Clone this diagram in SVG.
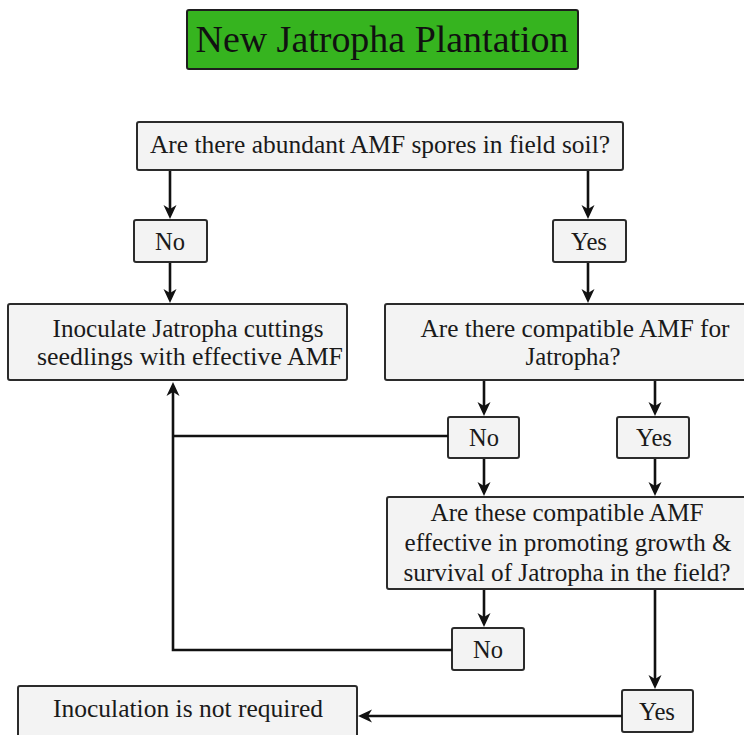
<svg xmlns="http://www.w3.org/2000/svg" width="744" height="735" viewBox="0 0 744 735">
<style>
.box{fill:#f3f3f3;stroke:#2b2b2b;stroke-width:2}
.t{font-size:25px;fill:#1a1a1a;text-anchor:middle}
.h{font-size:38px;fill:#111;text-anchor:middle}
.c{fill:none;stroke:#111;stroke-width:2.6}
</style>
<defs>
<marker id="ah" markerUnits="userSpaceOnUse" markerWidth="30" markerHeight="30" refX="0" refY="0" orient="auto" overflow="visible">
<path d="M4,0 L-10,-6.5 L-6,0 L-10,6.5 Z" fill="#111"/>
</marker>
</defs>
<rect width="744" height="735" fill="#fff"/>
<g font-family="Liberation Serif, Times New Roman, serif">
<g id="title">
<rect x="187" y="10" width="391" height="59" rx="2" fill="#36b41f" stroke="#1e1e1e" stroke-width="2"/>
<text class="h" x="382" y="52" textLength="373" lengthAdjust="spacingAndGlyphs">New Jatropha Plantation</text>
</g>
<g id="q1">
<rect class="box" x="137" y="122" width="486" height="48" rx="2"/>
<text class="t" x="380" y="153" textLength="460" lengthAdjust="spacingAndGlyphs">Are there abundant AMF spores in field soil?</text>
</g>
<g id="no1">
<rect class="box" x="134" y="220" width="73" height="42" rx="2"/>
<text class="t" x="170" y="250" textLength="30" lengthAdjust="spacingAndGlyphs">No</text>
</g>
<g id="yes1">
<rect class="box" x="553" y="220" width="73" height="42" rx="2"/>
<text class="t" x="589" y="250" textLength="36" lengthAdjust="spacingAndGlyphs">Yes</text>
</g>
<g id="inoculate">
<rect class="box" x="8" y="304" width="339" height="76" rx="2"/>
<text class="t" x="188" y="337" textLength="271" lengthAdjust="spacingAndGlyphs">Inoculate Jatropha cuttings</text>
<text class="t" x="190" y="365" textLength="306" lengthAdjust="spacingAndGlyphs">seedlings with effective AMF</text>
</g>
<g id="q2">
<rect class="box" x="385" y="304" width="362" height="76" rx="2"/>
<text class="t" x="575" y="337" textLength="309" lengthAdjust="spacingAndGlyphs">Are there compatible AMF for</text>
<text class="t" x="573" y="365" textLength="95" lengthAdjust="spacingAndGlyphs">Jatropha?</text>
</g>
<g id="no2">
<rect class="box" x="448" y="417" width="71" height="41" rx="2"/>
<text class="t" x="484" y="446" textLength="30" lengthAdjust="spacingAndGlyphs">No</text>
</g>
<g id="yes2">
<rect class="box" x="617" y="417" width="72" height="41" rx="2"/>
<text class="t" x="654" y="446" textLength="36" lengthAdjust="spacingAndGlyphs">Yes</text>
</g>
<g id="q3">
<rect class="box" x="387" y="497" width="360" height="92" rx="2"/>
<text class="t" x="567" y="521" textLength="273" lengthAdjust="spacingAndGlyphs">Are these compatible AMF</text>
<text class="t" x="568" y="551" textLength="327" lengthAdjust="spacingAndGlyphs">effective in promoting growth &amp;</text>
<text class="t" x="567" y="581" textLength="327" lengthAdjust="spacingAndGlyphs">survival of Jatropha in the field?</text>
</g>
<g id="no3">
<rect class="box" x="452" y="628" width="72" height="42" rx="2"/>
<text class="t" x="488" y="658" textLength="30" lengthAdjust="spacingAndGlyphs">No</text>
</g>
<g id="yes3">
<rect class="box" x="622" y="690" width="71" height="42" rx="2"/>
<text class="t" x="657" y="720" textLength="36" lengthAdjust="spacingAndGlyphs">Yes</text>
</g>
<g id="notreq">
<rect class="box" x="18" y="686" width="339" height="60" rx="2"/>
<text class="t" x="188" y="717" textLength="270" lengthAdjust="spacingAndGlyphs">Inoculation is not required</text>
</g>
</g>
<g id="connectors">
<path class="c" d="M170,171 V215" marker-end="url(#ah)"/>
<path class="c" d="M588,171 V215" marker-end="url(#ah)"/>
<path class="c" d="M170,263 V299" marker-end="url(#ah)"/>
<path class="c" d="M588,263 V299" marker-end="url(#ah)"/>
<path class="c" d="M484,381 V412" marker-end="url(#ah)"/>
<path class="c" d="M655,381 V412" marker-end="url(#ah)"/>
<path class="c" d="M484,459 V492" marker-end="url(#ah)"/>
<path class="c" d="M655,459 V492" marker-end="url(#ah)"/>
<path class="c" d="M484,590 V623" marker-end="url(#ah)"/>
<path class="c" d="M655,590 V685" marker-end="url(#ah)"/>
<path class="c" d="M448,436 H173"/>
<path class="c" d="M452,650 H173 V386" marker-end="url(#ah)"/>
<path class="c" d="M622,716 H362" marker-end="url(#ah)"/>
</g>
</svg>
